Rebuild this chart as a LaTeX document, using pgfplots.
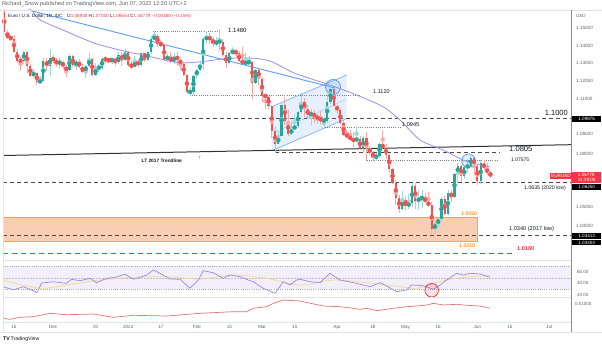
\documentclass[border=0pt]{standalone}
\usepackage{pgfplots}
\usepackage{pgfplotstable}
\pgfplotsset{compat=1.18}
\usepackage{fontspec}
\setmainfont{Liberation Sans}
\definecolor{cgreen}{HTML}{26A69A}
\definecolor{cred}{HTML}{EF5350}
\definecolor{wgreen}{HTML}{9ED8D2}
\definecolor{wred}{HTML}{F7AAA8}
\definecolor{tvblue}{HTML}{5B9CF6}
\definecolor{mapurple}{HTML}{9E8CF2}
\definecolor{rsipurple}{HTML}{9C88E8}
\definecolor{rsiyellow}{HTML}{F2DA8C}
\definecolor{rsiband}{HTML}{F2EEFB}
\definecolor{atrred}{HTML}{E57373}
\definecolor{oboxfill}{HTML}{F8CDB2}
\definecolor{oboxline}{HTML}{F5A25D}
\definecolor{otext}{HTML}{F59C34}
\definecolor{tvred}{HTML}{F23645}
\definecolor{chanfill}{HTML}{E4EEFD}
\definecolor{dashgray}{HTML}{4A4A4A}
\definecolor{scalegray}{HTML}{5D606B}
\definecolor{dark}{HTML}{131722}
\definecolor{sep}{HTML}{E0E3EB}
\newcommand{\fs}[1]{\fontsize{#1}{#1}\selectfont}
\pgfplotsset{pane/.style={scale only axis, anchor=south west, hide axis, clip=true,
  xmin=-3.371, xmax=170.70, width=568pt}}

\pgfplotstableread{
i o h l c
-3 1.1593 1.1608 1.1478 1.1480
-2 1.1480 1.1493 1.1443 1.1447
-1 1.1447 1.1465 1.1432 1.1444
0 1.1443 1.1464 1.1372 1.1368
1 1.1368 1.1385 1.1309 1.1320
2 1.1320 1.1338 1.1264 1.1319
3 1.1319 1.1374 1.1300 1.1370
4 1.1370 1.1374 1.1249 1.1290
5 1.1290 1.1300 1.1227 1.1237
6 1.1237 1.1272 1.1226 1.1251
7 1.1251 1.1253 1.1186 1.1199
8 1.1199 1.1235 1.1198 1.1209
9 1.1209 1.1334 1.1204 1.1318
10 1.1318 1.1336 1.1263 1.1290
11 1.1290 1.1383 1.1235 1.1337
12 1.1337 1.1352 1.1305 1.1320
13 1.1320 1.1335 1.1282 1.1303
14 1.1303 1.1333 1.1279 1.1315
15 1.1315 1.1320 1.1271 1.1285
16 1.1285 1.1293 1.1227 1.1265
17 1.1265 1.1355 1.1263 1.1345
18 1.1345 1.1350 1.1286 1.1293
19 1.1293 1.1326 1.1266 1.1315
20 1.1315 1.1329 1.1280 1.1285
21 1.1285 1.1300 1.1250 1.1259
22 1.1259 1.1296 1.1222 1.1290
23 1.1290 1.1360 1.1285 1.1330
24 1.1330 1.1335 1.1235 1.1240
25 1.1240 1.1305 1.1234 1.1280
26 1.1280 1.1303 1.1259 1.1281
27 1.1281 1.1340 1.1266 1.1330
28 1.1330 1.1345 1.1305 1.1325
29 1.1325 1.1330 1.1310 1.1320
30 1.1320 1.1336 1.1300 1.1328
31 1.1328 1.1335 1.1292 1.1310
32 1.1310 1.1368 1.1300 1.1350
33 1.1350 1.1368 1.1290 1.1325
34 1.1325 1.1385 1.1320 1.1370
35 1.1370 1.1376 1.1285 1.1298
36 1.1298 1.1320 1.1273 1.1285
37 1.1285 1.1347 1.1284 1.1315
38 1.1315 1.1330 1.1285 1.1295
39 1.1295 1.1365 1.1285 1.1360
40 1.1360 1.1365 1.1314 1.1325
41 1.1325 1.1375 1.1317 1.1368
42 1.1368 1.1455 1.1355 1.1440
43 1.1440 1.1482 1.1435 1.1455
44 1.1455 1.1470 1.1395 1.1415
45 1.1415 1.1435 1.1395 1.1408
46 1.1408 1.1412 1.1318 1.1325
47 1.1325 1.1355 1.1310 1.1345
48 1.1345 1.1370 1.1305 1.1310
49 1.1310 1.1364 1.1300 1.1345
50 1.1345 1.1368 1.1295 1.1325
51 1.1325 1.1330 1.1265 1.1300
52 1.1300 1.1310 1.1235 1.1240
53 1.1240 1.1245 1.1135 1.1145
54 1.1145 1.1175 1.1121 1.1146
55 1.1146 1.1240 1.1130 1.1235
56 1.1235 1.1273 1.1215 1.1270
57 1.1270 1.1320 1.1260 1.1300
58 1.1300 1.1450 1.1270 1.1440
59 1.1440 1.1483 1.1412 1.1450
60 1.1450 1.1475 1.1415 1.1440
61 1.1440 1.1450 1.1395 1.1415
62 1.1415 1.1449 1.1400 1.1425
63 1.1425 1.1495 1.1375 1.1426
64 1.1426 1.1440 1.1340 1.1350
65 1.1350 1.1370 1.1280 1.1305
66 1.1305 1.1369 1.1300 1.1360
67 1.1360 1.1395 1.1355 1.1375
68 1.1375 1.1385 1.1340 1.1360
69 1.1360 1.1375 1.1315 1.1320
70 1.1320 1.1395 1.1300 1.1305
71 1.1305 1.1360 1.1290 1.1310
72 1.1310 1.1345 1.1305 1.1311
73 1.1311 1.1320 1.1106 1.1195
74 1.1195 1.1275 1.1190 1.1270
75 1.1270 1.1275 1.1185 1.1220
76 1.1220 1.1230 1.1090 1.1125
77 1.1125 1.1140 1.1050 1.1120
78 1.1120 1.1125 1.1050 1.1065
79 1.1065 1.1070 1.0890 1.0930
80 1.0930 1.0950 1.0806 1.0855
81 1.0855 1.0930 1.0855 1.0900
82 1.0900 1.1085 1.0900 1.1075
83 1.1075 1.1120 1.0960 1.0985
84 1.0985 1.1045 1.0900 1.0910
85 1.0910 1.0985 1.0905 1.0940
86 1.0940 1.1020 1.0935 1.0955
87 1.0955 1.1040 1.0945 1.1035
88 1.1035 1.1138 1.1020 1.1090
89 1.1090 1.1110 1.1005 1.1050
90 1.1050 1.1075 1.0995 1.1015
91 1.1015 1.1048 1.0962 1.1030
92 1.1030 1.1045 1.0975 1.1005
93 1.1005 1.1025 1.0965 1.1000
94 1.1000 1.1040 1.0960 1.0985
95 1.0985 1.1000 1.0945 1.0986
96 1.0986 1.1135 1.0975 1.1090
97 1.1090 1.1185 1.1080 1.1160
98 1.1160 1.1170 1.1065 1.1065
99 1.1065 1.1075 1.1025 1.1045
100 1.1045 1.1050 1.0965 1.0970
101 1.0970 1.0995 1.0900 1.0905
102 1.0905 1.0935 1.0895 1.0900
103 1.0900 1.0935 1.0875 1.0880
104 1.0880 1.0922 1.0836 1.0875
105 1.0875 1.0955 1.0870 1.0885
106 1.0885 1.0900 1.0820 1.0830
107 1.0830 1.0900 1.0808 1.0890
108 1.0890 1.0925 1.0760 1.0825
109 1.0825 1.0845 1.0795 1.0810
110 1.0810 1.0815 1.0760 1.0780
111 1.0780 1.0805 1.0760 1.0790
112 1.0790 1.0868 1.0780 1.0855
113 1.0855 1.0936 1.0825 1.0835
114 1.0835 1.0855 1.0770 1.0795
115 1.0795 1.0805 1.0695 1.0715
116 1.0715 1.0720 1.0635 1.0640
117 1.0640 1.0655 1.0515 1.0555
118 1.0555 1.0570 1.0472 1.0495
119 1.0495 1.0595 1.0490 1.0545
120 1.0545 1.0565 1.0490 1.0510
121 1.0510 1.0575 1.0495 1.0525
122 1.0525 1.0640 1.0505 1.0620
123 1.0620 1.0640 1.0495 1.0540
124 1.0540 1.0600 1.0485 1.0550
125 1.0550 1.0600 1.0500 1.0560
126 1.0560 1.0580 1.0525 1.0530
127 1.0530 1.0590 1.0505 1.0515
128 1.0515 1.0530 1.0354 1.0380
129 1.0380 1.0425 1.0349 1.0410
130 1.0410 1.0445 1.0390 1.0435
131 1.0435 1.0560 1.0425 1.0550
132 1.0550 1.0565 1.0460 1.0465
133 1.0465 1.0600 1.0460 1.0585
134 1.0585 1.0600 1.0530 1.0560
135 1.0560 1.0695 1.0555 1.0690
136 1.0690 1.0750 1.0640 1.0735
137 1.0735 1.0740 1.0645 1.0675
138 1.0675 1.0730 1.0660 1.0725
139 1.0725 1.0765 1.0700 1.0735
140 1.0735 1.0787 1.0725 1.0780
141 1.0780 1.0785 1.0680 1.0735
142 1.0735 1.0740 1.0625 1.0650
143 1.0650 1.0765 1.0630 1.0750
144 1.0750 1.0764 1.0710 1.0720
145 1.0720 1.0750 1.0680 1.0694
146 1.0694 1.0705 1.0665 1.0678
}\candles

\begin{document}
\begin{tikzpicture}[x=1pt,y=1pt]
\useasboundingbox (0pt,0pt) rectangle (602pt,346pt);
\fill[white] (0pt,0pt) rectangle (602pt,346pt);

% ---------- price pane ----------
\begin{axis}[pane, at={(3pt,86pt)}, anchor=south west, height=250pt, ymin=1.02088, ymax=1.16020]
% orange zone
\filldraw[fill=oboxfill, draw=oboxline, line width=0.9pt] (axis cs:-3.371,1.04446) rectangle (axis cs:142.1,1.03147);
% channel
\fill[chanfill, opacity=0.9] (axis cs:78.98,1.10631) -- (axis cs:101.96,1.12398) -- (axis cs:101.96,1.09968) -- (axis cs:78.98,1.08179) -- cycle;
\draw[tvblue!80, line width=0.7pt] (axis cs:78.98,1.10631) -- (axis cs:101.96,1.12398);
\draw[tvblue!80, line width=0.7pt] (axis cs:78.98,1.08179) -- (axis cs:101.96,1.09968);
\draw[tvblue!70, line width=0.6pt, dash pattern=on 2pt off 1.5pt] (axis cs:79.47,1.09166) -- (axis cs:101.96,1.11060);
% horizontal levels
\draw[gray, line width=0.6pt, dash pattern=on 1pt off 1.2pt] (axis cs:42.6,1.1486) -- (axis cs:63.1,1.1486);
\draw[gray, line width=0.6pt, dash pattern=on 1pt off 1.2pt] (axis cs:53.9,1.1125) -- (axis cs:106.0,1.1125);
\draw[gray, line width=0.6pt, dash pattern=on 1pt off 1.2pt] (axis cs:95.3,1.0946) -- (axis cs:118.3,1.0946);
\draw[gray, line width=0.6pt, dash pattern=on 1pt off 1.2pt] (axis cs:108.2,1.07622) -- (axis cs:148.3,1.07622);
\draw[dashgray, line width=0.9pt, dash pattern=on 4pt off 3pt] (axis cs:-3.371,1.0995) -- (axis cs:170.7,1.0995);
\draw[dashgray, line width=0.9pt, dash pattern=on 4pt off 3pt] (axis cs:80,1.0809) -- (axis cs:149,1.0809);
\draw[dashgray, line width=0.9pt, dash pattern=on 4pt off 3pt] (axis cs:-3.371,1.06396) -- (axis cs:170.7,1.06396);
\draw[dashgray, line width=0.9pt, dash pattern=on 4pt off 3pt] (axis cs:-3.371,1.03443) -- (axis cs:170.7,1.03443);
\draw[tvred, line width=1pt, dash pattern=on 5pt off 4pt] (axis cs:-3.371,1.02462) -- (axis cs:152.9,1.02462);
% LT trendline
\draw[black!80, line width=1pt] (axis cs:-3.371,1.07912) -- (axis cs:170.7,1.08514);
% blue trendline
\addplot[tvblue, line width=0.9pt, forget plot] coordinates {(4.29,1.1602) (98.4,1.11673)};
% candles: wicks
\addplot[color=wgreen, only marks, mark=none, forget plot, x filter/.expression={\thisrow{c}<\thisrow{o} ? nan : x},
  error bars/.cd, y dir=both, y explicit, error mark=none, error bar style={line width=0.7pt, color=wgreen}]
  table[x=i, y expr={(\thisrow{h}+\thisrow{l})/2}, y error expr={(\thisrow{h}-\thisrow{l})/2}] {\candles};
\addplot[color=wred, only marks, mark=none, forget plot, x filter/.expression={\thisrow{c}<\thisrow{o} ? x : nan},
  error bars/.cd, y dir=both, y explicit, error mark=none, error bar style={line width=0.7pt, color=wred}]
  table[x=i, y expr={(\thisrow{h}+\thisrow{l})/2}, y error expr={(\thisrow{h}-\thisrow{l})/2}] {\candles};
% candles: bodies
\addplot[color=cgreen, only marks, mark=none, forget plot, x filter/.expression={\thisrow{c}<\thisrow{o} ? nan : x},
  error bars/.cd, y dir=both, y explicit, error mark=none, error bar style={line width=2.2pt, color=cgreen}]
  table[x=i, y expr={(\thisrow{o}+\thisrow{c})/2}, y error expr={max(abs(\thisrow{c}-\thisrow{o})/2,0.00012)}] {\candles};
\addplot[color=cred, only marks, mark=none, forget plot, x filter/.expression={\thisrow{c}<\thisrow{o} ? x : nan},
  error bars/.cd, y dir=both, y explicit, error mark=none, error bar style={line width=2.2pt, color=cred}]
  table[x=i, y expr={(\thisrow{o}+\thisrow{c})/2}, y error expr={max(abs(\thisrow{c}-\thisrow{o})/2,0.00012)}] {\candles};
% moving average
\addplot[mapurple, line width=0.8pt, smooth, tension=0.4, forget plot] coordinates {
(4.5,1.1612) (5.8,1.15925) (8.0,1.15463) (16.2,1.14811) (25,1.1415) (34.5,1.13696) (39.5,1.13512)
(50.3,1.13083) (57.5,1.13139) (65.6,1.13328) (73.9,1.13328) (79.0,1.13139) (86.1,1.12492)
(96.8,1.11840) (105.0,1.11283) (113.1,1.10631) (118.3,1.09890) (124.4,1.08776) (131.5,1.08218)
(137.6,1.07661) (140.7,1.07477) (145.9,1.0727)};
% circles
\filldraw[draw=tvblue, line width=0.8pt, fill=tvblue, fill opacity=0.18] (axis cs:97.76,1.11729) circle[radius=7.5pt];
\filldraw[draw=tvblue, line width=0.8pt, fill=tvblue, fill opacity=0.18] (axis cs:139.3,1.07620) circle[radius=6.8pt];
\end{axis}

% ---------- RSI pane ----------
\begin{axis}[pane, at={(3pt,49pt)}, anchor=south west, height=37pt, ymin=16.8, ymax=81.1]
\fill[rsiband] (axis cs:-3.371,30) rectangle (axis cs:170.7,70);
\draw[gray!70, line width=0.5pt, dash pattern=on 1pt off 1.2pt] (axis cs:-3.371,70) -- (axis cs:170.7,70);
\draw[gray!70, line width=0.5pt, dash pattern=on 1pt off 1.2pt] (axis cs:-3.371,30) -- (axis cs:170.7,30);
\draw[gray!50, line width=0.4pt, dash pattern=on 1.5pt off 1.5pt] (axis cs:-3.371,50) -- (axis cs:170.7,50);
\addplot[rsiyellow, line width=0.7pt, smooth, forget plot] coordinates {
(-3.4,46.3) (8,31.9) (16.1,37.7) (26.4,46.3) (36.6,51) (46.8,52) (57,48) (67.2,55) (77.4,49.3)
(87.6,37.7) (97.8,46.3) (108.1,41.7) (118.3,34.7) (123.4,31.9) (128.5,40.6) (133.6,47.6) (138.7,51.6) (145.9,53.8)};
\addplot[rsipurple, line width=0.7pt, forget plot] coordinates {
(-3.3,34.7) (-0.2,29) (2.8,34.7) (5,30) (7,24.3) (8.5,41) (12,43.4) (16.1,40.6) (17.7,47.6) (20.2,45)
(23.3,49.3) (25.3,41.7) (28.4,49.3) (31,51) (34,56.3) (36.6,47.6) (40.7,55) (42.7,63.7) (44.7,58)
(47.8,48.1) (50.9,47.6) (53.9,31.9) (56.5,46.3) (58,62.5) (61.1,59) (64.1,49.3) (66.2,55) (69.3,52)
(71.8,46.3) (73.3,43.4) (76.4,31.9) (80,23.2) (82.5,43.4) (84.6,37.7) (86.6,46.3) (87.6,47.6)
(90.7,43.4) (93.8,41.7) (96.8,58) (99.9,46.3) (104,41.7) (107,37.7) (109.1,34.7) (112.2,41.7)
(114.2,35.9) (117.3,26) (120.3,29) (121.9,37.7) (125.4,36.4) (128.5,30.2) (130.6,37.7) (132.6,46.3)
(135.7,58) (137.7,55) (139.7,58) (142.8,56.8) (145.9,51)};
\filldraw[draw=tvred, line width=0.8pt, fill=tvred, fill opacity=0.15] (axis cs:128.0,28.5) circle[radius=6.8pt];
\end{axis}

% ---------- ATR pane + dates ----------
\begin{axis}[scale only axis, anchor=south west, at={(3pt,24pt)}, width=568pt, height=25pt,
  xmin=-3.371, xmax=170.70, ymin=0.0041, ymax=0.012433, clip=true,
  axis y line=none, axis x line*=bottom, x axis line style={draw=sep, line width=0.6pt},
  ytick=\empty, major tick length=0pt,
  xtick={0,12,25,35,45,56,66,76,86,99,110,120,130,142,152,164},
  xticklabels={15,Dec,20,2022,17,Feb,15,Mar,15,Apr,18,May,16,Jun,15,Jul},
  xticklabel style={font=\fs{4.6}, text=scalegray, anchor=center, yshift=-5pt}]
\addplot[atrred, line width=0.7pt, forget plot] coordinates {
(-3.4,0.00533) (-1.2,0.0050) (1.8,0.00567) (5.9,0.00587) (11,0.0070) (16.1,0.00653) (24.3,0.00677)
(30.4,0.00567) (36.6,0.00633) (46.8,0.0061) (57,0.0070) (67.2,0.00753) (71.3,0.00753) (73.3,0.00867)
(77.4,0.0092) (79.5,0.01033) (82.5,0.01143) (87.6,0.0111) (94.8,0.00943) (99.9,0.0092) (104,0.00867)
(106,0.00833) (108.1,0.00867) (111.2,0.00787) (116.2,0.00867) (120.3,0.0092) (123.4,0.00943)
(126.5,0.00977) (128.5,0.01033) (131.6,0.00977) (135.7,0.0100) (138.7,0.00967) (142.8,0.00943) (145.9,0.00867)};
\end{axis}

% ---------- frame lines and texts (image coordinates) ----------
\begin{scope}[y=-1pt, shift={(0pt,346pt)}]
\draw[sep, line width=0.6pt] (0,10) -- (602,10);
\draw[sep, line width=0.5pt] (3,10) -- (3,332);
\draw[sep, line width=0.6pt] (3,260) -- (571,260);
\draw[sep, line width=0.6pt] (3,297) -- (571,297);
\draw[sep, line width=0.6pt] (0,332) -- (602,332);
\draw[black!45, line width=0.6pt] (571.5,10) -- (571.5,332);

\node[anchor=west, font=\fs{5.6}, text=scalegray, inner sep=0] at (2,4.5) {Richard\_Snow published on TradingView.com, Jun 07, 2022 12:20 UTC+2};
\node[anchor=west, font=\fs{4.6}, text=dark, inner sep=0] at (8,16) {Euro / U.S. Dollar, 1D, IDC\quad O\textcolor{tvred}{1.06938} H\textcolor{tvred}{1.07050} L\textcolor{tvred}{1.06654} C\textcolor{tvred}{1.06779} \textcolor{tvred}{−0.00160 (−0.15\%)}};
\node[anchor=west, font=\fs{4.4}, text=scalegray, inner sep=0] at (576,16) {USD};

\foreach \v/\yy in {1.15000/28.3, 1.14000/45.7, 1.13000/63.3, 1.12000/81, 1.11000/99, 1.09000/134.3, 1.08000/153.7, 1.05000/207, 1.04000/225.7}
  \node[anchor=west, font=\fs{4.6}, text=scalegray, inner sep=0] at (576,\yy) {\v};
\foreach \v/\yy in {1.09876/119, 1.06250/187, 1.03413/235.7, 1.03403/242.5}
  \node[anchor=west, font=\fs{4.6}, text=white, fill=black, inner xsep=3pt, inner ysep=1.2pt, minimum width=29pt] at (572,\yy) {\v};
\node[anchor=west, font=\fs{4.6}, text=white, fill=tvred, inner xsep=1.5pt, inner ysep=1.6pt] at (549.5,176) {EURUSD};
\node[anchor=west, font=\fs{4.6}, text=white, fill=tvred, inner xsep=3pt, inner ysep=1.2pt, minimum width=29pt, align=left] at (572,177.5) {1.06779\\[0.5pt]11:39:05};

\node[anchor=west, font=\fs{6}, text=dark, inner sep=0] at (228,30) {1.1480};
\node[anchor=west, font=\fs{5.5}, text=dark, inner sep=0] at (373,92) {1.1120};
\node[anchor=east, font=\fs{7.5}, text=dark, inner sep=0] at (568,113) {1.1000};
\node[anchor=west, font=\fs{5.6}, text=dark, inner sep=0] at (402,125) {1.0945};
\node[anchor=west, font=\fs{7.6}, text=dark, inner sep=0] at (509,148.5) {1.0805};
\node[anchor=west, font=\fs{5}, text=dark, inner sep=0] at (511,159.5) {1.07575};
\node[anchor=west, font=\bfseries\fs{4.8}, text=dark, inner sep=0] at (141.5,160.7) {LT 2017 Trendline};
\node[font=\bfseries\fs{5.5}, text=dark, inner sep=0] at (200,158.5) {↑};
\node[anchor=west, font=\fs{5.2}, text=dark, inner sep=0] at (524,188.5) {1.0635 (2020 low)};
\node[anchor=west, font=\bfseries\fs{5.2}, text=otext, inner sep=0] at (461,213.3) {1.0450};
\node[anchor=west, font=\fs{5.6}, text=dark, inner sep=0] at (509,229.3) {1.0340 (2017 low)};
\node[anchor=west, font=\bfseries\fs{5.2}, text=otext, inner sep=0] at (459,246) {1.0310};
\node[anchor=west, font=\bfseries\fs{5.6}, text=tvred, inner sep=0] at (517,248.3) {1.0180};

\foreach \v/\yy in {60.00/272.3, 40.00/283.3, 20.00/295}
  \node[anchor=west, font=\fs{4.5}, text=scalegray, inner sep=0] at (577,\yy) {\v};
\node[anchor=west, font=\fs{4.5}, text=scalegray, inner sep=0] at (575,304.3) {0.01000};
\node[anchor=west, font=\fs{5.2}, text=dark, inner sep=0] at (3,339) {\textbf{TV}\,TradingView};
\end{scope}
\end{tikzpicture}
\end{document}
